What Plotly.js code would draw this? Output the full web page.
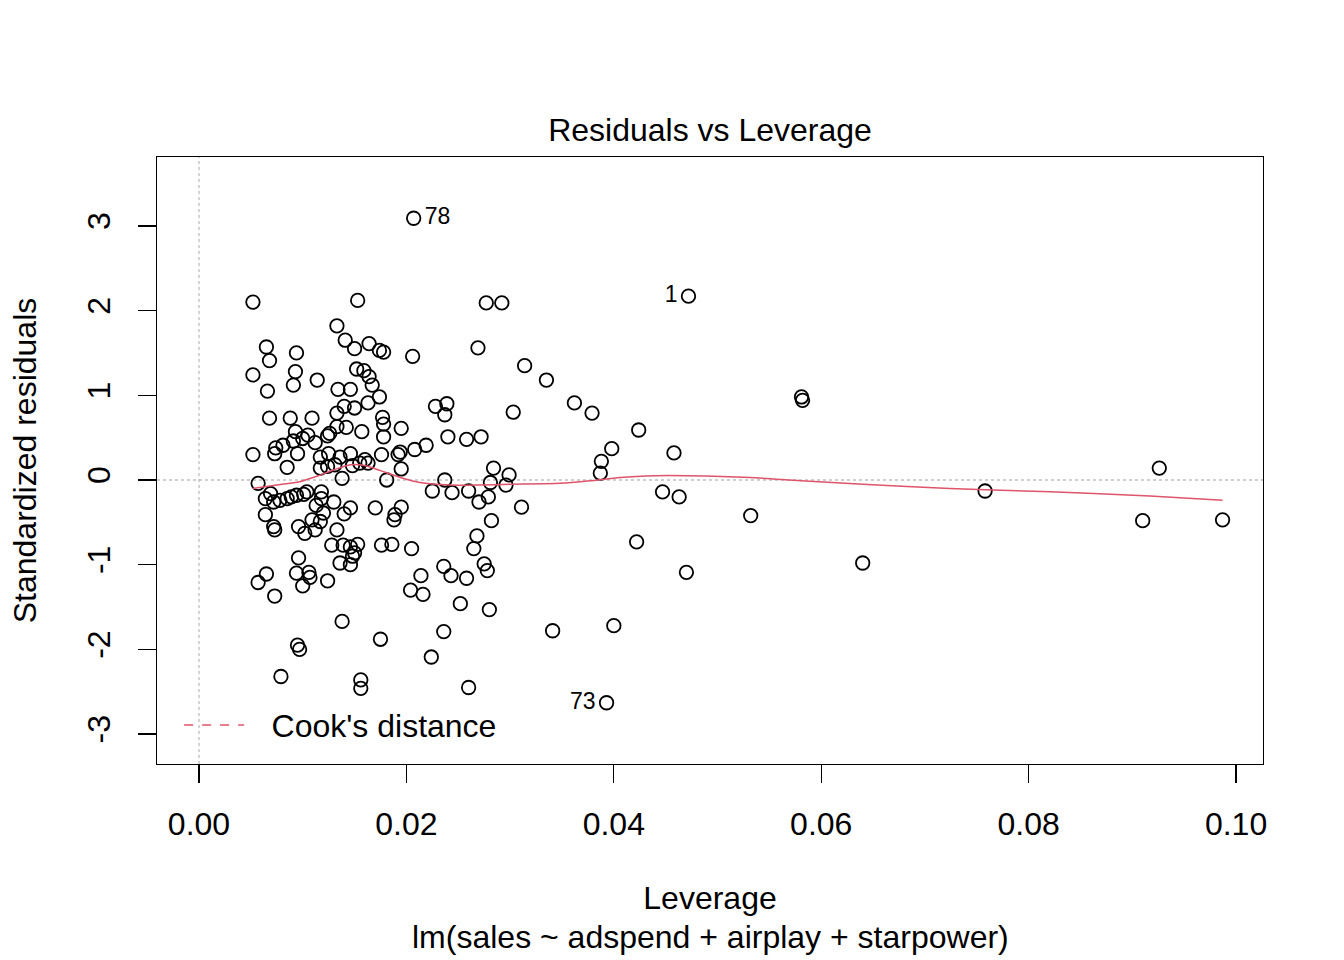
<!DOCTYPE html>
<html>
<head>
<meta charset="utf-8">
<script src="https://cdn.plot.ly/plotly-3.0.1.min.js"></script>
<style>html,body{margin:0;padding:0;background:#fff;}#chart{width:1344px;height:960px;}</style>
</head>
<body>
<div id="chart"></div>
<script>
// Leverage (hat values) of each observation
var leverage = [
0.0207,0.0472,0.0393,0.0581,0.0582,0.0758,0.0926,0.0910,0.0987,0.0640,
0.0532,0.0470,0.0458,0.0463,0.0447,0.0424,0.0422,0.0400,0.0398,0.0388,
0.0387,0.0379,0.0362,0.0341,0.0335,0.0314,0.0311,0.0303,0.0299,0.0296,
0.0292,0.0277,0.0269,0.0272,0.0284,0.0281,0.0279,0.0270,0.0282,0.0268,
0.0265,0.0275,0.0278,0.0280,0.0258,0.0260,0.0258,0.0252,0.0260,0.0243,
0.0244,0.0237,0.0236,0.0236,0.0240,0.0239,0.0237,0.0228,0.0225,0.0224,
0.0219,0.0214,0.0216,0.0204,0.0205,0.0208,0.0206,0.0195,0.0195,0.0195,
0.0194,0.0192,0.0189,0.0188,0.0186,0.0176,0.0175,0.0181,0.0178,0.0178,
0.0177,0.0178,0.0174,0.0174,0.0176,0.0170,0.0167,0.0164,0.0159,0.0152,
0.0164,0.0150,0.0141,0.0133,0.0153,0.0052,0.0065,0.0068,0.0094,0.0052,
0.0093,0.0091,0.0066,0.0114,0.0134,0.0146,0.0140,0.0150,0.0163,0.0133,
0.0068,0.0088,0.0109,0.0133,0.0142,0.0157,0.0093,0.0105,0.0124,0.0091,
0.0081,0.0073,0.0052,0.0095,0.0085,0.0117,0.0125,0.0136,0.0146,0.0124,
0.0117,0.0131,0.0138,0.0155,0.0163,0.0057,0.0064,0.0072,0.0078,0.0085,
0.0089,0.0094,0.0104,0.0118,0.0118,0.0130,0.0146,0.0064,0.0072,0.0073,
0.0096,0.0102,0.0109,0.0117,0.0112,0.0133,0.0128,0.0139,0.0146,0.0096,
0.0113,0.0120,0.0065,0.0057,0.0073,0.0094,0.0106,0.0107,0.0100,0.0124,
0.0136,0.0146,0.0148,0.0138,0.0095,0.0097,0.0079,0.0156,0.0156,0.0069,
0.0101,0.0150,0.0153,0.0140,0.0074,0.0100,0.0126,0.0112,0.0160,0.0148
];
// Standardized residuals of each observation
var stdResid = [
3.09,2.17,-2.63,0.98,0.94,-0.13,0.14,-0.48,-0.47,-0.98,
-0.42,-1.09,0.32,-0.20,-0.14,0.59,-0.73,-1.72,0.37,0.22,
0.08,0.79,0.91,-1.78,1.18,1.35,-0.32,0.80,0.06,-0.06,
2.09,2.09,1.56,0.51,0.14,-0.03,-0.20,-0.26,-0.48,-0.66,
-0.81,-0.99,-1.07,-1.53,0.48,-0.13,-1.16,-1.46,-2.45,-1.13,
-0.15,0.00,-1.02,-1.79,0.51,0.90,0.77,0.87,-0.13,-2.09,
0.41,-1.13,-1.35,-1.30,-0.81,0.36,1.46,-0.32,0.13,0.61,
0.33,0.30,-0.41,-0.47,-0.76,-0.77,-1.88,0.00,0.51,0.66,
0.74,1.51,1.53,0.98,0.30,-0.33,1.12,1.22,1.29,1.31,
1.61,1.55,1.65,1.82,2.12,2.10,1.57,1.41,1.50,1.24,
1.28,1.12,1.05,1.18,1.07,1.07,0.87,0.85,0.91,0.79,
0.73,0.73,0.73,0.63,0.62,0.57,0.57,0.53,0.52,0.46,
0.41,0.31,0.30,0.31,0.15,0.27,0.31,0.27,0.31,0.16,
0.14,0.18,0.02,0.20,0.20,-0.04,-0.22,-0.26,-0.24,-0.22,
-0.20,-0.18,-0.14,-0.14,-0.22,-0.26,-0.33,-0.41,-0.55,-0.59,
-0.55,-0.63,-0.47,-0.49,-0.59,-0.59,-0.77,-0.77,-0.79,-0.92,
-0.30,-0.39,-1.11,-1.21,-1.37,-1.10,-1.09,-1.15,-1.25,-1.19,
-0.98,-1.00,-0.90,-1.67,-1.95,-2.00,-2.32,-2.36,-2.46,-0.16,
-0.17,-0.86,-0.76,-0.40,0.38,0.49,0.55,0.44,0.24,0.17
];
// Labelled extreme observations
var labelIds = ["78", "1", "73"];
var labelLev = [0.0207, 0.0472, 0.0393];
var labelRes = [3.09, 2.17, -2.63];
var labelPos = ["middle right", "middle left", "middle left"];
// Loess smooth of residuals on leverage
var smoothLev = [0.0052,0.0075,0.0097,0.0115,0.0130,0.0146,0.0160,0.0175,0.0194,0.0213,0.0242,0.0270,0.0300,0.0348,0.0377,0.0406,0.0440,0.0470,0.0531,0.0580,0.0640,0.0724,0.0821,0.0917,0.0987];
var smoothRes = [-0.10,-0.06,-0.02,0.05,0.12,0.18,0.17,0.11,0.03,-0.03,-0.06,-0.06,-0.05,-0.04,-0.01,0.03,0.05,0.05,0.03,-0.01,-0.05,-0.10,-0.14,-0.19,-0.24];
// Axis ticks
var xTicks = [0, 0.02, 0.04, 0.06, 0.08, 0.10];
var xTickText = ["0.00", "0.02", "0.04", "0.06", "0.08", "0.10"];
var yTicks = [-3, -2, -1, 0, 1, 2, 3];
var yTickText = ["-3", "-2", "-1", "0", "1", "2", "3"];

var FONT = "Liberation Sans, Arial, Helvetica, sans-serif";
var RED = "#DF536B";

var traces = [
  {
    type: "scatter", mode: "markers", x: leverage, y: stdResid,
    marker: {symbol: "circle-open", size: 13.5, color: "#000000", line: {width: 1.8, color: "#000000"}},
    showlegend: false, hoverinfo: "x+y"
  },
  {
    type: "scatter", mode: "lines", x: smoothLev, y: smoothRes,
    line: {color: RED, width: 1.5, shape: "spline", smoothing: 0.6},
    showlegend: false, hoverinfo: "skip"
  },
  {
    type: "scatter", mode: "markers+text", x: labelLev, y: labelRes, text: labelIds,
    textposition: labelPos,
    marker: {size: 16, color: "rgba(0,0,0,0)"},
    textfont: {family: FONT, size: 23, color: "#000000"},
    showlegend: false, hoverinfo: "skip"
  },
  {
    type: "scatter", mode: "lines", x: [null], y: [null],
    name: "\u2002\u2009Cook's distance",
    line: {color: RED, width: 1.5, dash: "dash"},
    showlegend: true
  }
];

var layout = {
  width: 1344, height: 960,
  paper_bgcolor: "#ffffff", plot_bgcolor: "#ffffff",
  font: {family: FONT, size: 32, color: "#000000"},
  margin: {l: 157, r: 81, t: 157, b: 196, pad: 0},
  showlegend: true,
  title: {
    text: "Residuals vs Leverage",
    font: {family: FONT, size: 32, color: "#000000"},
    x: 0.5, xref: "paper", xanchor: "center",
    y: 0.8646, yref: "container", yanchor: "middle"
  },
  xaxis: {
    range: [-0.00405, 0.1026],
    tickvals: xTicks, ticktext: xTickText,
    ticks: "outside", ticklen: 18, tickwidth: 1.3, tickcolor: "#000000",
    ticklabelstandoff: 13,
    showline: true, linecolor: "#000000", linewidth: 1.3, mirror: true,
    showgrid: false, zeroline: false,
    tickfont: {family: FONT, size: 32, color: "#000000"},
    title: {text: "Leverage", font: {family: FONT, size: 32, color: "#000000"}, standoff: 46},
    automargin: false
  },
  yaxis: {
    range: [-3.353, 3.813],
    tickvals: yTicks, ticktext: yTickText, tickangle: -90,
    ticks: "outside", ticklen: 18, tickwidth: 1.3, tickcolor: "#000000",
    ticklabelstandoff: 15,
    showline: true, linecolor: "#000000", linewidth: 1.3, mirror: true,
    showgrid: false, zeroline: false,
    tickfont: {family: FONT, size: 32, color: "#000000"},
    title: {text: "Standardized residuals", font: {family: FONT, size: 32, color: "#000000"}, standoff: 34},
    automargin: false
  },
  legend: {
    x: 0.02, xanchor: "left", y: 0.064, yanchor: "middle",
    bgcolor: "rgba(0,0,0,0)", borderwidth: 0,
    font: {family: FONT, size: 32, color: "#000000"},
    itemwidth: 60
  },
  shapes: [
    {type: "line", xref: "paper", x0: 0, x1: 1, yref: "y", y0: 0, y1: 0,
     line: {color: "#BEBEBE", width: 1.3, dash: "dot"}, layer: "below"},
    {type: "line", yref: "paper", y0: 0, y1: 1, xref: "x", x0: 0, x1: 0,
     line: {color: "#BEBEBE", width: 1.3, dash: "dot"}, layer: "below"}
  ],
  annotations: [
    {text: "lm(sales ~ adspend + airplay + starpower)", xref: "paper", x: 0.5, xanchor: "center",
     yref: "paper", y: -0.285, yanchor: "middle", showarrow: false,
     font: {family: FONT, size: 32, color: "#000000"}}
  ]
};

Plotly.newPlot("chart", traces, layout, {displayModeBar: false, staticPlot: true});
</script>
</body>
</html>
